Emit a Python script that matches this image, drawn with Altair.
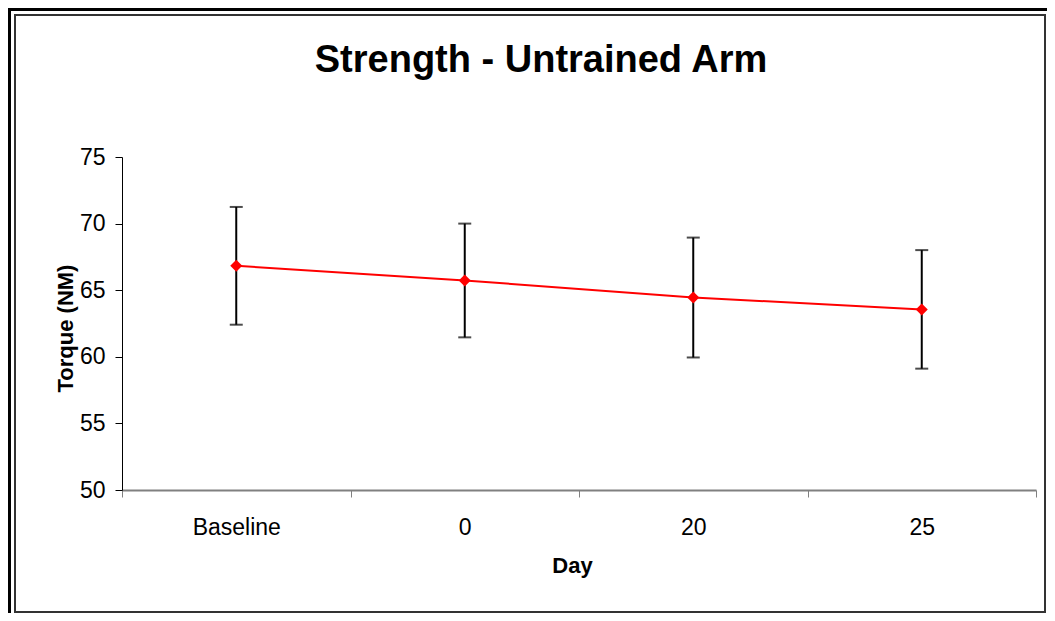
import altair as alt
import pandas as pd

# ---- data ----
days = ["Baseline", "0", "20", "25"]
torque_mean = [66.83, 65.73, 64.45, 63.56]
torque_sd = [4.42, 4.27, 4.50, 4.45]
y_ticks = [50, 55, 60, 65, 70, 75]

df = pd.DataFrame({
    "Day": days,
    "Torque": torque_mean,
    "Lower": [m - s for m, s in zip(torque_mean, torque_sd)],
    "Upper": [m + s for m, s in zip(torque_mean, torque_sd)],
})
frame_df = pd.DataFrame({"k": [0]})

FONT = "Liberation Sans"
W, H = 914, 333

x_enc = alt.X(
    "Day:N",
    sort=days,
    scale=alt.Scale(type="band", paddingInner=0, paddingOuter=0),
    axis=alt.Axis(
        title="Day",
        labelAngle=0,
        labelFont=FONT,
        labelFontSize=23,
        labelColor="black",
        labelBaseline="alphabetic",
        labelPadding=37,
        tickBand="extent",
        tickSize=7,
        tickColor="#808080",
        tickWidth=1,
        domainColor="#808080",
        domainWidth=2,
        grid=False,
        titleFont=FONT,
        titleFontSize=22,
        titleFontWeight="bold",
        titleColor="black",
        titleX=450,
        titleY=82,
        titleBaseline="alphabetic",
        titleAlign="center",
    ),
)
y_scale = alt.Scale(domain=[50, 75], nice=False, zero=False)
y_axis = alt.Axis(
    title="Torque (NM)",
    values=y_ticks,
    tickSize=7,
    tickColor="black",
    domainColor="black",
    domainWidth=1,
    labelFont=FONT,
    labelFontSize=23,
    labelColor="black",
    labelPadding=10,
    grid=False,
    titleFont=FONT,
    titleFontSize=22,
    titleFontWeight="bold",
    titleColor="black",
    titleAngle=270,
    titleX=-50,
    titleY=171,
    titleBaseline="alphabetic",
    titleAlign="center",
)

base = alt.Chart(df)

inner_box = alt.Chart(frame_df).mark_rect(
    fill="transparent", stroke="#333333", strokeWidth=2
).encode(
    x=alt.value(-107), x2=alt.value(923), y=alt.value(-142), y2=alt.value(455)
)
outer_left = alt.Chart(frame_df).mark_rule(color="black", strokeWidth=3).encode(
    x=alt.value(-112.5), y=alt.value(-149), y2=alt.value(456)
)
outer_top = alt.Chart(frame_df).mark_rule(color="black", strokeWidth=3).encode(
    y=alt.value(-147.5), x=alt.value(-114), x2=alt.value(925)
)

bars = base.mark_rule(color="black", strokeWidth=2).encode(
    x=x_enc,
    y=alt.Y("Lower:Q", scale=y_scale, axis=y_axis),
    y2="Upper:Q",
)
cap_lo = base.mark_tick(color="black", thickness=2, size=13).encode(
    x=x_enc, y=alt.Y("Lower:Q", scale=y_scale, axis=y_axis)
)
cap_hi = base.mark_tick(color="black", thickness=2, size=13).encode(
    x=x_enc, y=alt.Y("Upper:Q", scale=y_scale, axis=y_axis)
)
line = base.mark_line(color="#FF0000", strokeWidth=2).encode(
    x=x_enc, y=alt.Y("Torque:Q", scale=y_scale, axis=y_axis)
)
points = base.mark_point(
    shape="diamond", filled=True, size=144, color="#FF0000", opacity=1
).encode(
    x=x_enc, y=alt.Y("Torque:Q", scale=y_scale, axis=y_axis)
)

chart = (
    alt.layer(inner_box, outer_left, outer_top, bars, cap_lo, cap_hi, line, points)
    .properties(
        width=W,
        height=H,
        title=alt.TitleParams(
            "Strength - Untrained Arm",
            font=FONT,
            fontSize=38,
            fontWeight="bold",
            color="black",
            anchor="middle",
            frame="group",
            baseline="alphabetic",
            dx=-38,
            dy=103,
            offset=0,
        ),
        autosize=alt.AutoSizeParams(type="none"),
        padding={"left": 114, "top": 149, "right": 11, "bottom": 123},
        background="white",
    )
    .configure_view(stroke=None)
)

chart.save("out.html", embed_options={"renderer": "svg", "actions": False})
